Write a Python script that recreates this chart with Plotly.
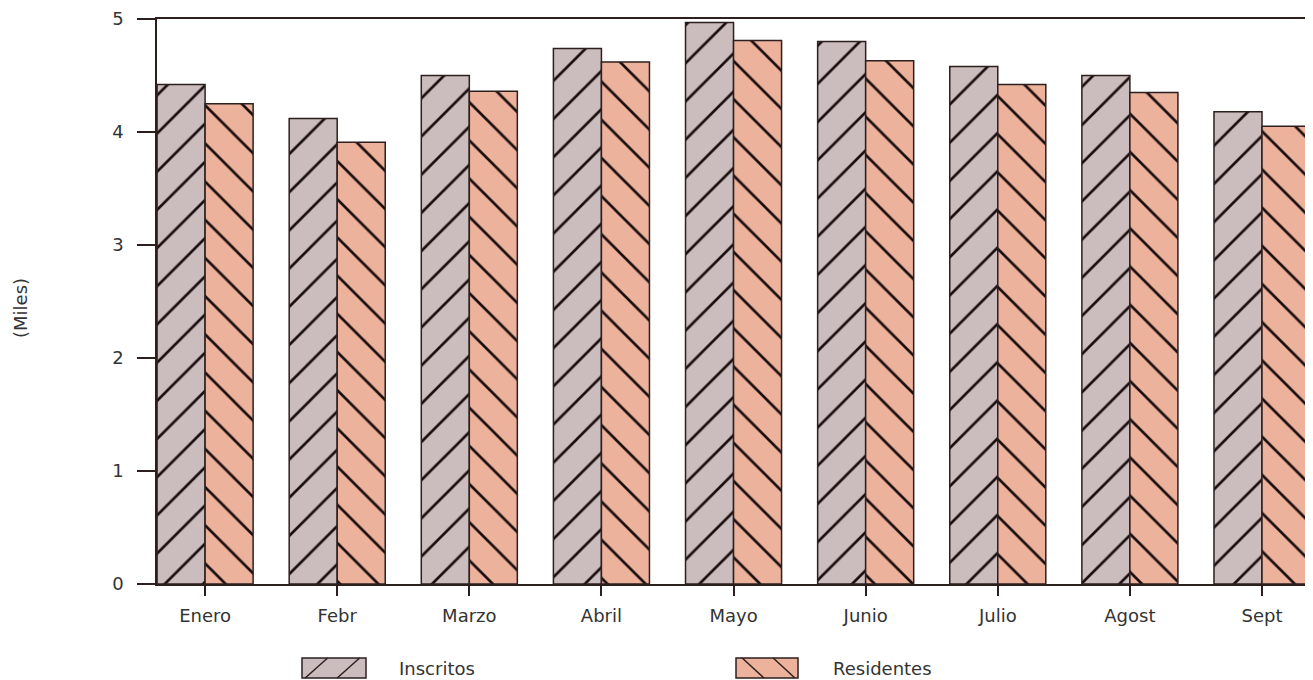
import plotly.graph_objects as go

months = ["Enero", "Febr", "Marzo", "Abril", "Mayo", "Junio", "Julio", "Agost", "Sept"]
inscritos = [4.42, 4.12, 4.50, 4.74, 4.97, 4.80, 4.58, 4.50, 4.18]
residentes = [4.25, 3.91, 4.36, 4.62, 4.81, 4.63, 4.42, 4.35, 4.05]
y_ticks = [0, 1, 2, 3, 4, 5]

C_INS = "#cbbdbd"
C_RES = "#edb29c"
C_LINE = "#2e1f1f"
C_HATCH = "#1a0e0e"
TXT = "#333333"
FONT = "DejaVu Sans"

OFF = 8  # page body margin
W, H = 1313 - OFF, 680 - OFF
ML, MR, MT, MB = 157 - OFF, 0, 19 - OFF, 96
PW, PH = W - ML - MR, H - MT - MB


def px(xp):
    return (xp - OFF - ML) / PW


def py(yp):
    return (H - MB - (yp - OFF)) / PH


fig = go.Figure()
fig.add_trace(go.Bar(
    x=months, y=inscritos, name="Inscritos", showlegend=False,
    marker=dict(color=C_INS, line=dict(color=C_LINE, width=1.5),
                pattern=dict(shape="/", bgcolor=C_INS, fgcolor=C_HATCH, fgopacity=1,
                             size=27, solidity=0.1)),
))
fig.add_trace(go.Bar(
    x=months, y=residentes, name="Residentes", showlegend=False,
    marker=dict(color=C_RES, line=dict(color=C_LINE, width=1.5),
                pattern=dict(shape="\\", bgcolor=C_RES, fgcolor=C_HATCH, fgopacity=1,
                             size=27, solidity=0.1)),
))

shapes = []
annotations = []
# custom legend swatches
legend_items = [("Inscritos", C_INS, 302, 366, 397, "/"), ("Residentes", C_RES, 736, 798, 831, "\\")]
for name, col, x0, x1, tx, shp in legend_items:
    y0, y1 = 678, 658
    shapes.append(dict(type="rect", xref="paper", yref="paper",
                       x0=px(x0), x1=px(x1), y0=py(y0), y1=py(y1),
                       fillcolor=col, line=dict(color=C_LINE, width=1.5)))
    w = x1 - x0
    if shp == "/":
        segs = [(x0 + 0.05 * w, y0, x0 + 0.4 * w, y1), (x0 + 0.55 * w, y0, x0 + 0.9 * w, y1)]
    else:
        segs = [(x0 + 0.1 * w, y1, x0 + 0.45 * w, y0), (x0 + 0.6 * w, y1, x0 + 0.95 * w, y0)]
    for a, b, c, d in segs:
        shapes.append(dict(type="line", xref="paper", yref="paper",
                           x0=px(a), y0=py(b), x1=px(c), y1=py(d),
                           line=dict(color=C_LINE, width=1.5)))
    annotations.append(dict(text=name, xref="paper", yref="paper", x=px(tx), y=py(668),
                            xanchor="left", yanchor="middle", showarrow=False,
                            font=dict(family=FONT, size=18, color=TXT)))

annotations.append(dict(text="(Miles)", xref="paper", yref="paper", x=px(20), y=py(308),
                        xanchor="center", yanchor="middle", textangle=-90, showarrow=False,
                        font=dict(family=FONT, size=18, color=TXT)))

fig.update_layout(
    width=W, height=H,
    margin=dict(l=ML, r=MR, t=MT, b=MB),
    paper_bgcolor="white", plot_bgcolor="white",
    barmode="group", bargap=0.273, bargroupgap=0,
    shapes=shapes, annotations=annotations,
    xaxis=dict(range=[-0.364, 8.386], showgrid=False, showline=True, linecolor=C_LINE, linewidth=1.5,
               mirror=True, ticks="outside", ticklen=10, tickcolor=C_LINE, tickwidth=1.5,
               ticklabelstandoff=5, tickfont=dict(family=FONT, size=18, color=TXT)),
    yaxis=dict(range=[0, 5], tickvals=y_ticks, showgrid=False, zeroline=False, showline=True,
               linecolor=C_LINE, linewidth=1.5, ticks="outside", ticklen=18, tickcolor=C_LINE,
               tickwidth=1.5, ticklabelstandoff=10, tickfont=dict(family=FONT, size=18, color=TXT)),
)

fig.write_html("out.html")
